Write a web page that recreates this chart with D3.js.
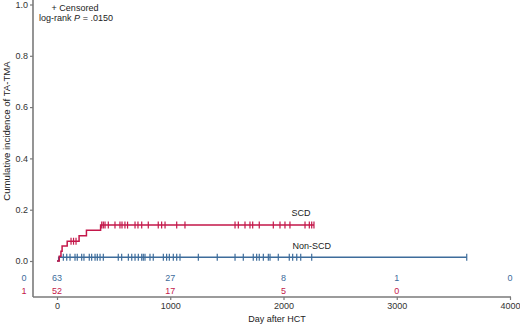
<!DOCTYPE html>
<html><head><meta charset="utf-8">
<script src="https://cdn.jsdelivr.net/npm/d3@7"></script>
<style>
body{margin:0;background:#fff;}
svg{display:block;font-family:"Liberation Sans",Arial,Helvetica,sans-serif;}
</style></head>
<body><svg id="c" width="520" height="329"></svg>
<script>
// ---- data ----
const groups = ["Non-SCD", "SCD"];
const riskGroupCodes = ["0", "1"];
const xTicks = [0, 1000, 2000, 3000, 4000];
const yTicks = [0.0, 0.2, 0.4, 0.6, 0.8, 1.0];
// step curves: [day, cumulative incidence]
const scdSteps = [[0,0],[20,0.019],[35,0.038],[45,0.058],[90,0.077],[195,0.098],[260,0.12],[385,0.14],[2269,0.14]];
const nonScdSteps = [[0,0],[15,0.015],[3618,0.015]];
const scdCensor = [124,146,168,395,409,424,453,512,556,574,600,623,689,715,748,806,894,924,954,1057,1130,1572,1601,1660,1704,1728,1786,1910,1969,2013,2057,2190,2228,2249,2269];
const nonScdCensor = [56,86,115,159,179,218,238,285,306,336,356,380,409,541,571,630,660,689,718,748,762,777,821,850,939,968,992,1027,1057,1086,1248,1415,1572,1645,1733,1763,1786,1822,1866,1881,1954,2051,2081,2117,2152,2249,3618];
const riskNonScd = [63, 27, 8, 1, 0];
const riskScd = [52, 17, 5, 0];

// ---- drawing ----
const svg = d3.select("#c");
const red = "#c4174a", blue = "#3d6c9b", axisCol = "#7a7a7a";
const x = d3.scaleLinear().domain([0, 4000]).range([57, 510]);
const y = d3.scaleLinear().domain([0, 1]).range([261, 4.5]);
const yAxisX = 33, xAxisY = 297;

// axes lines
svg.append("line").attr("x1", yAxisX).attr("x2", yAxisX).attr("y1", 0).attr("y2", xAxisY)
  .attr("stroke", axisCol).attr("stroke-width", 1.6);
svg.append("line").attr("x1", yAxisX).attr("x2", x(4000)+1).attr("y1", xAxisY).attr("y2", xAxisY)
  .attr("stroke", axisCol).attr("stroke-width", 1.6);

const yAx = svg.append("g").attr("transform", `translate(${yAxisX},0)`)
  .call(d3.axisLeft(y).tickValues(yTicks).tickFormat(d3.format(".1f")).tickSize(3).tickPadding(2));
const xAx = svg.append("g").attr("transform", `translate(0,${xAxisY})`)
  .call(d3.axisBottom(x).tickValues(xTicks).tickFormat(d3.format("d")).tickSize(3).tickPadding(3));
[yAx, xAx].forEach(g => {
  g.select(".domain").remove();
  g.selectAll(".tick line").attr("stroke", axisCol).attr("stroke-width", 1.2);
  g.selectAll(".tick text").attr("fill", "#333").style("font-size", "9px").style("font-family", "Liberation Sans, Arial, sans-serif");
});

// axis titles
svg.append("text").attr("transform", `translate(10,131) rotate(-90)`).attr("text-anchor", "middle")
  .attr("fill", "#222").style("font-size", "9.6px")
  .text("Cumulative incidence of TA-TMA");
svg.append("text").attr("x", 277).attr("y", 322).attr("text-anchor", "middle")
  .attr("fill", "#222").style("font-size", "9px").text("Day after HCT");

// curves
const line = d3.line().x(d => x(d[0])).y(d => y(d[1])).curve(d3.curveStepAfter);
function drawCurve(steps, censor, col) {
  svg.append("path").datum(steps).attr("d", line).attr("fill", "none")
    .attr("stroke", col).attr("stroke-width", 1.5);
  const lvl = d => { let v = 0; steps.forEach(s => { if (s[0] <= d) v = s[1]; }); return v; };
  svg.append("g").selectAll("line").data(censor).join("line")
    .attr("x1", d => x(d)).attr("x2", d => x(d))
    .attr("y1", d => y(lvl(d)) - 3.5).attr("y2", d => y(lvl(d)) + 3.5)
    .attr("stroke", col).attr("stroke-width", 1.2);
}
drawCurve(nonScdSteps, nonScdCensor, blue);
drawCurve(scdSteps, scdCensor, red);

// curve labels
svg.append("text").attr("x", x(2070)).attr("y", y(0.14) - 9).attr("fill", "#222").style("font-size", "9px").text(groups[1]);
svg.append("text").attr("x", x(2080)).attr("y", y(0.015) - 8).attr("fill", "#222").style("font-size", "9px").text(groups[0]);

// legend / p-value
svg.append("text").attr("x", 75).attr("y", 11).attr("text-anchor", "middle").attr("fill", "#222")
  .style("font-size", "9px").text("+ Censored");
const pt = svg.append("text").attr("x", 76).attr("y", 21).attr("text-anchor", "middle").attr("fill", "#222").style("font-size", "9px");
pt.append("tspan").text("log-rank ");
pt.append("tspan").style("font-style", "italic").text("P");
pt.append("tspan").text(" = .0150");

// number at risk
const rowY = [281, 294];
const rowCol = [blue, red];
riskGroupCodes.forEach((c, i) => {
  svg.append("text").attr("x", 24).attr("y", rowY[i]).attr("text-anchor", "middle").attr("fill", rowCol[i])
    .style("font-size", "9px").text(c);
});
svg.append("g").selectAll("text").data(riskNonScd).join("text")
  .attr("x", (d, i) => x(xTicks[i])).attr("y", rowY[0]).attr("text-anchor", "middle")
  .attr("fill", blue).style("font-size", "9px").text(d => d);
svg.append("g").selectAll("text").data(riskScd).join("text")
  .attr("x", (d, i) => x(xTicks[i])).attr("y", rowY[1]).attr("text-anchor", "middle")
  .attr("fill", red).style("font-size", "9px").text(d => d);
</script></body></html>
